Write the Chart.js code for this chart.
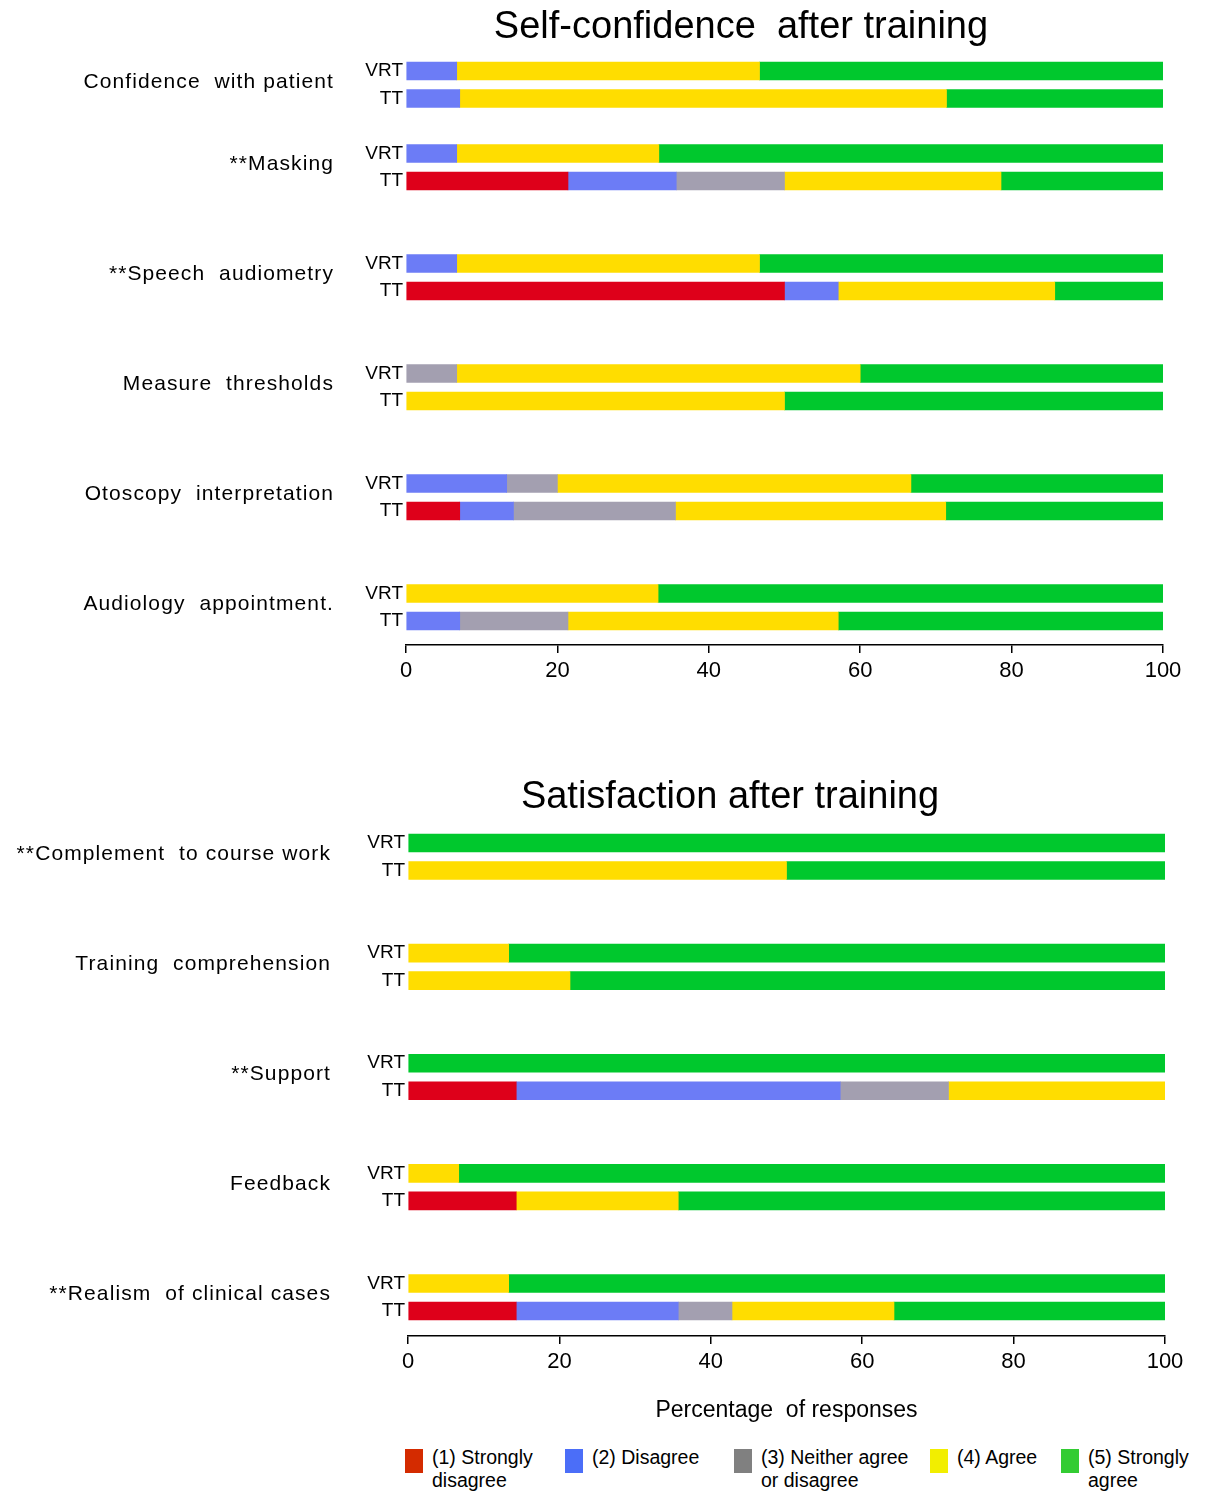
<!DOCTYPE html>
<html><head><meta charset="utf-8">
<script src="https://cdn.jsdelivr.net/npm/chart.js@4.4.0/dist/chart.umd.min.js"></script>
<style>
html,body{margin:0;padding:0;background:#fff;}
body{width:1205px;height:1492px;position:relative;overflow:hidden;font-family:"Liberation Sans",Arial,sans-serif;}
.wrap{position:absolute;left:0;width:1205px;}
#legend{position:absolute;top:1446px;left:0;width:1205px;height:46px;}
.li{position:absolute;top:0;font-size:19.5px;line-height:23px;color:#000;}
.sw{position:absolute;left:0;top:3px;width:18px;height:24px;}
.lt{position:absolute;left:27px;top:0;white-space:nowrap;}
</style></head><body>
<div class="wrap" style="top:0;height:700px"><canvas id="c1" width="1205" height="700"></canvas></div>
<div class="wrap" style="top:750px;height:680px"><canvas id="c2" width="1205" height="680"></canvas></div>
<div id="legend"></div>
<script>
// ---------- DATA ----------
const levels = ['(1) Strongly disagree', '(2) Disagree', '(3) Neither agree or disagree', '(4) Agree', '(5) Strongly agree'];
const legendLines = [['(1) Strongly', 'disagree'], ['(2) Disagree'], ['(3) Neither agree', 'or disagree'], ['(4) Agree'], ['(5) Strongly', 'agree']];
const groupNames = ['VRT', 'TT'];
const xTicks = [0, 20, 40, 60, 80, 100];

// Self-confidence after training
const confCategories = ['Confidence  with patient', '**Masking', '**Speech  audiometry', 'Measure  thresholds', 'Otoscopy  interpretation', 'Audiology  appointment.'];
const confVRT1 = [0, 0, 0, 0, 0, 0];
const confVRT2 = [6.7, 6.7, 6.7, 0, 13.3, 0];
const confVRT3 = [0, 0, 0, 6.7, 6.7, 0];
const confVRT4 = [40.0, 26.7, 40.0, 53.3, 46.7, 33.3];
const confVRT5 = [53.3, 66.6, 53.3, 40.0, 33.3, 66.7];
const confTT1 = [0, 21.4, 50.0, 0, 7.1, 0];
const confTT2 = [7.1, 14.3, 7.1, 0, 7.1, 7.1];
const confTT3 = [0, 14.3, 0, 0, 21.4, 14.3];
const confTT4 = [64.3, 28.6, 28.6, 50.0, 35.7, 35.7];
const confTT5 = [28.6, 21.4, 14.3, 50.0, 28.7, 42.9];

// Satisfaction after training
const satCategories = ['**Complement  to course work', 'Training  comprehension', '**Support', 'Feedback', '**Realism  of clinical cases'];
const satVRT1 = [0, 0, 0, 0, 0];
const satVRT2 = [0, 0, 0, 0, 0];
const satVRT3 = [0, 0, 0, 0, 0];
const satVRT4 = [0, 13.3, 0, 6.7, 13.3];
const satVRT5 = [100, 86.7, 100, 93.3, 86.7];
const satTT1 = [0, 0, 14.3, 14.3, 14.3];
const satTT2 = [0, 0, 42.8, 0, 21.4];
const satTT3 = [0, 0, 14.3, 0, 7.1];
const satTT4 = [50.0, 21.4, 28.6, 21.4, 21.4];
const satTT5 = [50.0, 78.6, 0, 64.3, 35.8];

// ---------- STYLE ----------
const barColors = ['#DE001A', '#6C7CF6', '#A39FB0', '#FFDD00', '#00C82D'];
const legendColors = ['#D42B00', '#4B6EF8', '#808080', '#F2EE00', '#33CC33'];
const FONT = '"Liberation Sans", Arial, sans-serif';

function build(categories, vrt, tt, gaps) {
  const labels = [];
  const rows = [];
  const data = levels.map(() => []);
  categories.forEach((c, i) => {
    const r = [];
    [vrt, tt].forEach((src, g) => {
      r.push(labels.length);
      labels.push(groupNames[g]);
      src.forEach((arr, l) => data[l].push(arr[i] || null));
    });
    rows.push(r);
    if (i < categories.length - 1) {
      for (let k = 0; k < gaps[i]; k++) {
        labels.push('');
        data.forEach(d => d.push(null));
      }
    }
  });
  return {labels, rows, data};
}

const groupLabelPlugin = {
  id: 'groupLabels',
  afterDraw(chart, args, opts) {
    const y = chart.scales.y;
    const ctx = chart.ctx;
    ctx.save();
    ctx.font = opts.font;
    if ('letterSpacing' in ctx) ctx.letterSpacing = opts.letterSpacing;
    ctx.fillStyle = '#000';
    ctx.textAlign = 'right';
    ctx.textBaseline = 'middle';
    opts.names.forEach((name, i) => {
      const a = y.getPixelForValue(opts.rows[i][0]);
      const b = y.getPixelForValue(opts.rows[i][1]);
      ctx.fillText(name, opts.right, (a + b) / 2 + opts.dy);
    });
    ctx.restore();
  }
};

function makeChart(id, built, names, o) {
  return new Chart(document.getElementById(id), {
    type: 'bar',
    data: {
      labels: built.labels,
      datasets: levels.map((lv, l) => ({
        label: lv,
        data: built.data[l],
        backgroundColor: barColors[l],
        borderWidth: 0,
        barThickness: 18,
        xAxisID: 'x',
        yAxisID: 'y'
      }))
    },
    options: {
      indexAxis: 'y',
      responsive: false,
      devicePixelRatio: 1,
      animation: false,
      events: [],
      layout: {padding: {left: o.padL, right: o.padR, top: 0, bottom: o.padB}},
      plugins: {
        legend: {display: false},
        tooltip: {enabled: false},
        title: {
          display: true, text: o.title, color: '#000',
          font: {family: FONT, size: 38, weight: 'normal', lineHeight: 1.2},
          padding: {top: o.titleTop, bottom: o.titleBottom}
        },
        groupLabels: {names, rows: built.rows, right: o.labelRight, dy: -3,
          font: '21px ' + FONT, letterSpacing: '1.1px'}
      },
      scales: {
        x: {
          type: 'linear', stacked: true, min: 0, max: 100, position: 'bottom', weight: 1,
          afterBuildTicks: s => { s.ticks = xTicks.map(v => ({value: v})); },
          ticks: {font: {family: FONT, size: 22}, color: '#000', padding: 5, maxRotation: 0},
          grid: {display: true, drawOnChartArea: false, drawTicks: true, tickLength: 8, color: '#000', lineWidth: 1.5},
          border: {display: true, color: '#000', width: 1.5},
          title: o.xTitle ? {display: true, text: o.xTitle, color: '#000', font: {family: FONT, size: 23}, padding: 0} : {display: false},
          afterFit: s => { s.height = o.xHeight; }
        },
        xpad: {
          type: 'linear', position: 'bottom', weight: 0, display: true,
          grid: {display: false}, ticks: {display: false}, border: {display: false},
          afterFit: s => { s.height = o.gap; }
        },
        y: {
          type: 'category', stacked: true, position: 'left',
          grid: {display: false, drawTicks: false}, border: {display: false},
          ticks: {autoSkip: false, font: {family: FONT, size: 19}, color: '#000', padding: 3},
          afterFit: s => { s.width = o.yWidth; }
        }
      }
    },
    plugins: [groupLabelPlugin]
  });
}

const conf = build(confCategories,
  [confVRT1, confVRT2, confVRT3, confVRT4, confVRT5],
  [confTT1, confTT2, confTT3, confTT4, confTT5], [1, 2, 2, 2, 2]);
makeChart('c1', conf, confCategories, {
  title: 'Self-confidence  after training',
  padL: 319, padR: 42, padB: 10, yWidth: 87,
  titleTop: 5.2, titleBottom: 6.45,
  xHeight: 45, gap: 10.25, labelRight: 334
});

const sat = build(satCategories,
  [satVRT1, satVRT2, satVRT3, satVRT4, satVRT5],
  [satTT1, satTT2, satTT3, satTT4, satTT5], [2, 2, 2, 2]);
makeChart('c2', sat, satCategories, {
  title: 'Satisfaction after training',
  padL: 295, padR: 40, padB: 5.8, yWidth: 113,
  titleTop: 25.2, titleBottom: 8.4,
  xHeight: 88.2, gap: 11.2, labelRight: 331, xTitle: 'Percentage  of responses'
});

// HTML legend
const legendX = [405, 565, 734, 930, 1061];
const lg = document.getElementById('legend');
legendLines.forEach((lines, i) => {
  const d = document.createElement('div');
  d.className = 'li';
  d.style.left = legendX[i] + 'px';
  const sw = document.createElement('div');
  sw.className = 'sw';
  sw.style.background = legendColors[i];
  const t = document.createElement('div');
  t.className = 'lt';
  lines.forEach((ln, k) => {
    if (k) t.appendChild(document.createElement('br'));
    t.appendChild(document.createTextNode(ln));
  });
  d.appendChild(sw); d.appendChild(t);
  lg.appendChild(d);
});
</script>
</body></html>
